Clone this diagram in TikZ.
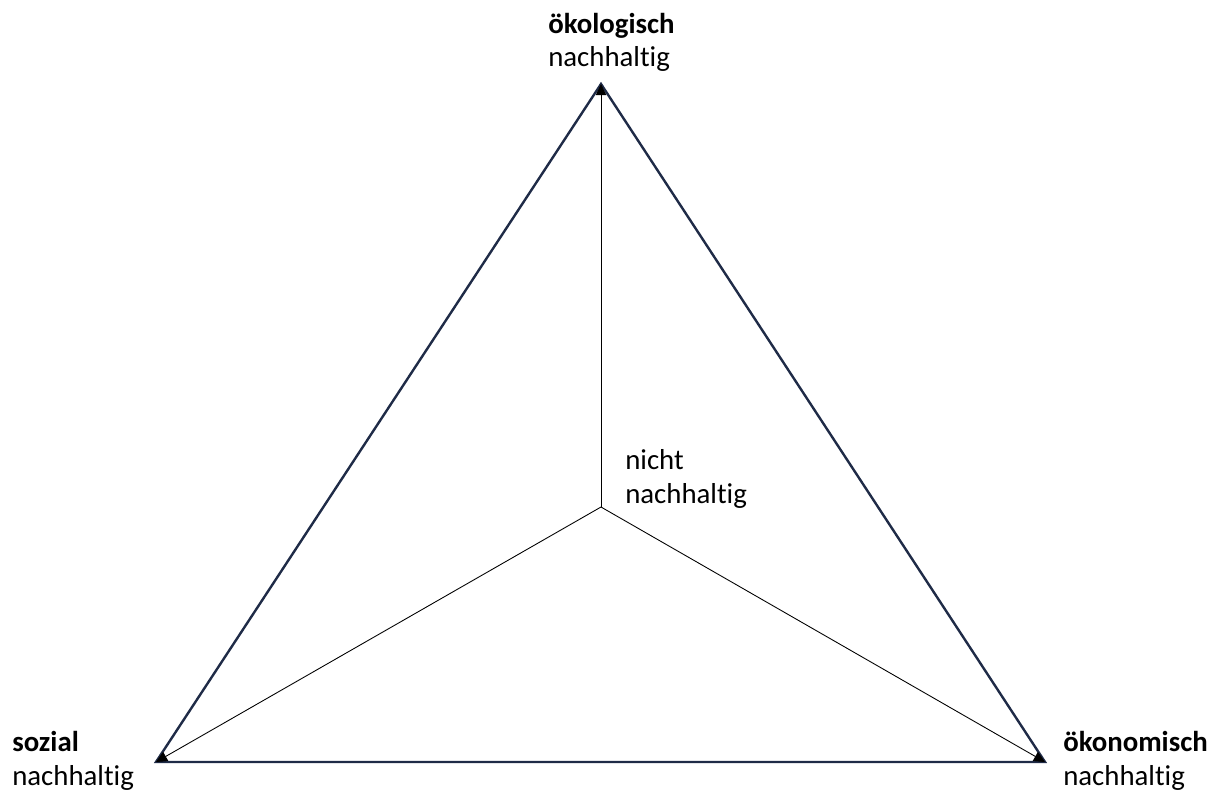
\documentclass[tikz,border=0pt]{standalone}
\usepackage{fontspec}
\setmainfont{Carlito}[Ligatures={NoCommon}]
\usetikzlibrary{arrows.meta}
\definecolor{rimblue}{HTML}{1F2B47}
\begin{document}
\begin{tikzpicture}[x=0.25mm,y=-0.25mm,
  lbl/.style={inner sep=0pt, align=left, anchor=base west, font=\fontsize{20.5}{24pt}\selectfont},
  axis/.style={draw, line width=0.22mm, -{Triangle[length=2.8mm,width=2.6mm]}},
  rim/.style={draw=rimblue, line width=0.6mm, line join=miter}]
\useasboundingbox (0,0) rectangle (1218,796);
\coordinate (top) at (601,84);
\coordinate (left) at (156,762);
\coordinate (right) at (1045,762);
\coordinate (mid) at (601,507);

\path[rim] (top) -- (right) -- (left) -- cycle;

\path[axis] (mid) -- (top);
\path[axis] (mid) -- (left);
\path[axis] (mid) -- (right);

\node[lbl] (oeko) at (548,67) {\textbf{ökologisch}\\nachhaltig};
\node[lbl] (sozi) at (12,785) {\textbf{sozial}\\nachhaltig};
\node[lbl] (oeko2) at (1063,785) {\textbf{ökonomisch}\\nachhaltig};
\node[lbl] (nicht) at (625,503) {nicht\\nachhaltig};
\end{tikzpicture}
\end{document}
